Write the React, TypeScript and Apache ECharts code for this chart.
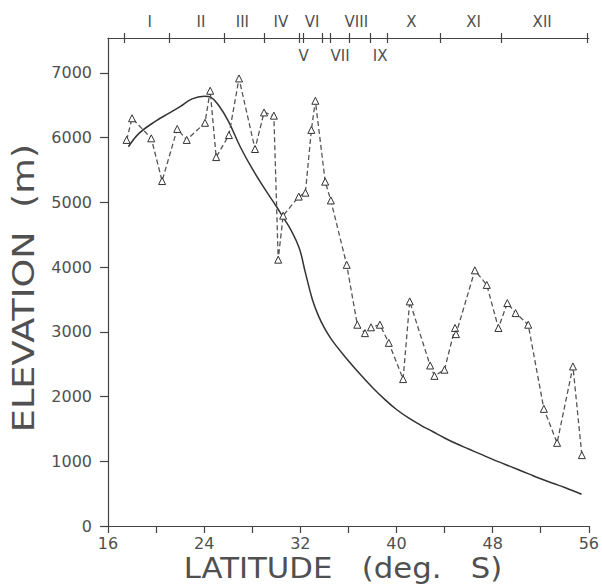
import React, { useEffect, useRef } from "react";
import * as echarts from "echarts";

// Observed elevations (dashed line with triangles)
const obsLat = [17.55, 18.0, 19.6, 20.5, 21.76, 22.55, 24.07, 24.5, 25.0, 26.06, 26.9, 28.23, 28.98, 29.8, 30.16, 30.57, 31.87, 32.42, 32.92, 33.25, 34.07, 34.54, 35.86, 36.74, 37.38, 37.88, 38.62, 39.36, 40.55, 41.1, 42.8, 43.16, 43.99, 44.87, 44.95, 46.52, 47.51, 48.48, 49.22, 49.91, 50.96, 52.26, 53.36, 54.68, 55.42];
const obsElev = [5965, 6300, 5990, 5330, 6135, 5965, 6230, 6725, 5700, 6040, 6915, 5825, 6390, 6340, 4115, 4795, 5090, 5150, 6120, 6570, 5320, 5030, 4035, 3110, 2980, 3070, 3110, 2830, 2270, 3470, 2480, 2320, 2415, 3060, 2965, 3950, 3725, 3060, 3445, 3290, 3110, 1810, 1285, 2465, 1095];

// Smooth model curve (solid line)
const curveLat = [17.7, 18.6, 20.0, 21.0, 22.0, 23.0, 24.0, 24.6, 25.2, 26.0, 27.0, 28.0, 29.0, 30.0, 30.6, 31.2, 31.9, 32.4, 33.0, 33.5, 34.0, 34.6, 35.7, 37.0, 38.0, 39.0, 40.0, 41.0, 42.0, 43.0, 44.0, 45.0, 46.0, 47.0, 48.0, 49.0, 50.0, 51.0, 52.0, 53.0, 54.0, 55.4];
const curveElev = [5860, 6070, 6260, 6370, 6480, 6600, 6640, 6620, 6500, 6260, 5860, 5520, 5220, 4940, 4760, 4580, 4300, 3930, 3500, 3250, 3060, 2880, 2620, 2340, 2140, 1960, 1800, 1670, 1560, 1460, 1360, 1270, 1190, 1110, 1030, 955, 880, 805, 730, 660, 595, 490];

// Axis ticks
const yTicks = [0, 1000, 2000, 3000, 4000, 5000, 6000, 7000];

// Region boundaries (top axis) and region labels
const regionBounds = [17.32, 21.07, 25.67, 28.98, 31.91, 32.24, 33.81, 34.47, 36.04, 37.82, 39.22, 43.66, 48.75, 55.83];
const upperNames = ["I", "II", "III", "IV", "VI", "VIII", "X", "XI", "XII"];
const upperPos = [19.47, 23.74, 27.18, 30.38, 32.98, 36.66, 41.23, 46.41, 52.12];
const lowerNames = ["V", "VII", "IX"];
const lowerPos = [32.28, 35.31, 38.64];

const xTitle = "LATITUDE   (deg.   S)";
const yTitle = "ELEVATION  (m)";

const FONT = "DejaVu Sans";
const TXT = "#505050";
const LINE = "#444";

function nameFor(v: number, pos: number[], names: string[]): string {
  for (let i = 0; i < pos.length; i++) {
    if (Math.abs(pos[i] - v) < 1e-6) return names[i];
  }
  return "";
}

export default function App() {
  const ref = useRef<HTMLDivElement>(null);
  useEffect(() => {
    if (!ref.current) return;
    const chart = echarts.init(ref.current, null, { renderer: "svg" });
    const obs = obsLat.map((x, i) => [x, obsElev[i]]);
    const curve = curveLat.map((x, i) => [x, curveElev[i]]);
    chart.setOption({
      animation: false,
      backgroundColor: "#ffffff",
      grid: { left: 108, right: 10, top: 38, bottom: 61, containLabel: false },
      graphic: [
        {
          type: "text",
          x: 343,
          y: 568,
          scaleX: 1.06,
          style: {
            text: xTitle,
            font: `29px "${FONT}"`,
            fill: TXT,
            align: "center",
            verticalAlign: "middle",
            textAlign: "center",
            textVerticalAlign: "middle",
          },
        },
        {
          type: "text",
          x: 24,
          y: 288,
          rotation: Math.PI / 2,
          scaleX: 1.22,
          style: {
            text: yTitle,
            font: `30px "${FONT}"`,
            fill: TXT,
            align: "center",
            verticalAlign: "middle",
            textAlign: "center",
            textVerticalAlign: "middle",
          },
        },
      ],
      xAxis: [
        {
          type: "value",
          position: "bottom",
          min: 16,
          max: 56,
          interval: 4,
          splitLine: { show: false },
          axisLine: { show: true, onZero: false, lineStyle: { color: LINE, width: 1.2 } },
          axisTick: { show: true, inside: false, length: 7, lineStyle: { color: LINE, width: 1.2 } },
          axisLabel: {
            margin: 9,
            fontFamily: FONT,
            fontSize: 16,
            color: TXT,
            formatter: (v: number) => (v % 8 === 0 ? String(v) : ""),
          },
        },
        {
          type: "value",
          position: "top",
          min: 16,
          max: 56,
          splitLine: { show: false },
          axisLine: { show: true, onZero: false, lineStyle: { color: LINE, width: 1.2 } },
          axisTick: { show: true, inside: false, length: 5, customValues: regionBounds, lineStyle: { color: LINE, width: 1.2 } },
          axisLabel: {
            show: true,
            margin: 9,
            customValues: upperPos,
            fontFamily: FONT,
            fontSize: 15,
            color: TXT,
            formatter: (v: number) => nameFor(v, upperPos, upperNames),
          },
        },
        {
          type: "value",
          position: "top",
          min: 16,
          max: 56,
          splitLine: { show: false },
          axisLine: { show: false, onZero: false },
          axisTick: { show: true, inside: true, length: 5, customValues: regionBounds, lineStyle: { color: LINE, width: 1.2 } },
          axisLabel: {
            show: true,
            inside: true,
            margin: 10,
            customValues: lowerPos,
            fontFamily: FONT,
            fontSize: 15,
            color: TXT,
            formatter: (v: number) => nameFor(v, lowerPos, lowerNames),
          },
        },
      ],
      yAxis: {
        type: "value",
        min: 0,
        max: 7540,
        splitLine: { show: false },
        axisLine: { show: true, onZero: false, lineStyle: { color: LINE, width: 1.2 } },
        axisTick: { show: true, inside: false, length: 8, customValues: yTicks, lineStyle: { color: LINE, width: 1.2 } },
        axisLabel: {
          margin: 16,
          customValues: yTicks,
          fontFamily: FONT,
          fontSize: 16,
          color: TXT,
          formatter: (v: number) => String(v),
        },
      },
      series: [
        {
          type: "line",
          xAxisIndex: 0,
          data: curve,
          smooth: 0.4,
          showSymbol: false,
          symbol: "none",
          lineStyle: { color: "#333", width: 1.5 },
          z: 2,
        },
        {
          type: "line",
          xAxisIndex: 0,
          data: obs,
          symbol: "triangle",
          symbolSize: 7,
          showAllSymbol: true,
          lineStyle: { color: "#555", width: 1.3, type: [5, 3] },
          itemStyle: { color: "#ffffff", borderColor: "#333", borderWidth: 1 },
          z: 3,
        },
      ],
    });
    return () => chart.dispose();
  }, []);
  return (
    <div
      ref={ref}
      style={{ position: "fixed", left: 0, top: 0, width: 602, height: 587, background: "#fff" }}
    />
  );
}
